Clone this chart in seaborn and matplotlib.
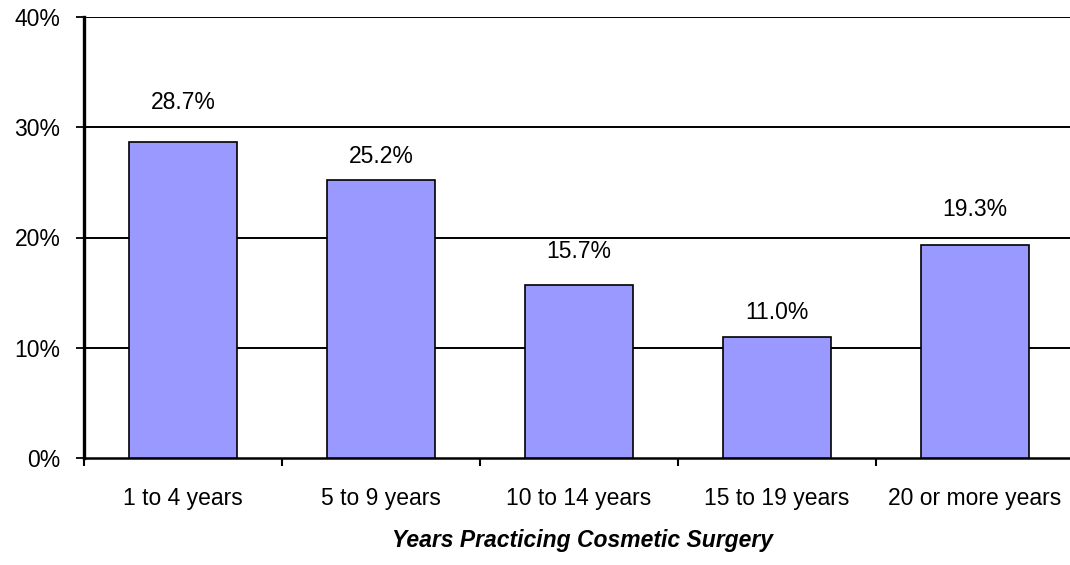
import matplotlib
matplotlib.use("Agg")
import matplotlib.pyplot as plt
import seaborn as sns
import pandas as pd

# data
categories = ["1 to 4 years", "5 to 9 years", "10 to 14 years", "15 to 19 years", "20 or more years"]
shares = [28.7, 25.2, 15.7, 11.0, 19.3]
y_ticks = [0, 10, 20, 30, 40]

# label gap above each bar (pixels), as placed in the reference
label_gap_px = [39, 24, 33, 24, 36]

df = pd.DataFrame({"years": categories, "share": shares})

sns.set_theme(style="white")
plt.rcParams['font.family'] = ['Liberation Sans', 'DejaVu Sans']
plt.rcParams['text.color'] = 'black'
plt.rcParams['xtick.color'] = 'black'
plt.rcParams['ytick.color'] = 'black'

fig = plt.figure(figsize=(10.7, 5.65), dpi=100)
ax = fig.add_axes([84/1070, 107/565, 990/1070, 441/565])

sns.barplot(data=df, x="years", y="share", color="#9999FF", saturation=1,
            width=0.55, edgecolor="black", linewidth=1.2, ax=ax, zorder=3)

ax.set_ylim(0, 40)
ax.set_xlim(-0.5, len(categories) - 0.5)
ax.set_yticks(y_ticks)
ax.set_yticklabels([f"{t}%" for t in y_ticks], fontsize=16.5)
for t in y_ticks[1:]:
    ax.axhline(t, color="black", lw=1.4, zorder=1)

# ticks on category boundaries, labels in the middle
ax.set_xticks([i - 0.5 for i in range(len(categories) + 1)])
ax.set_xticklabels([])
ax.set_xticks(range(len(categories)), minor=True)
ax.set_xticklabels(categories, minor=True, fontsize=16.5)
ax.tick_params(axis="x", which="major", length=6, width=1.5, direction="out", bottom=True)
ax.tick_params(axis="x", which="minor", length=0, pad=21)
ax.tick_params(axis="y", length=6, width=1.3, direction="out", left=True, pad=11)

for s in ["top", "right"]:
    ax.spines[s].set_visible(False)
ax.spines["left"].set_linewidth(2.4)
ax.spines["left"].set_color("black")
ax.spines["bottom"].set_linewidth(1.8)
ax.spines["bottom"].set_color("black")

for i, v in enumerate(shares):
    ax.annotate(f"{v:.1f}%", (i, v), xytext=(0, label_gap_px[i] * 0.72), textcoords="offset points",
                ha="center", va="center", fontsize=16.5)

ax.set_xlabel("")
ax.set_ylabel("")
fig.text(582/1070, 25/565, "Years Practicing Cosmetic Surgery", ha="center", va="center",
         fontsize=16.5, fontweight="bold", fontstyle="italic")

fig.savefig("out.png", dpi=100)
